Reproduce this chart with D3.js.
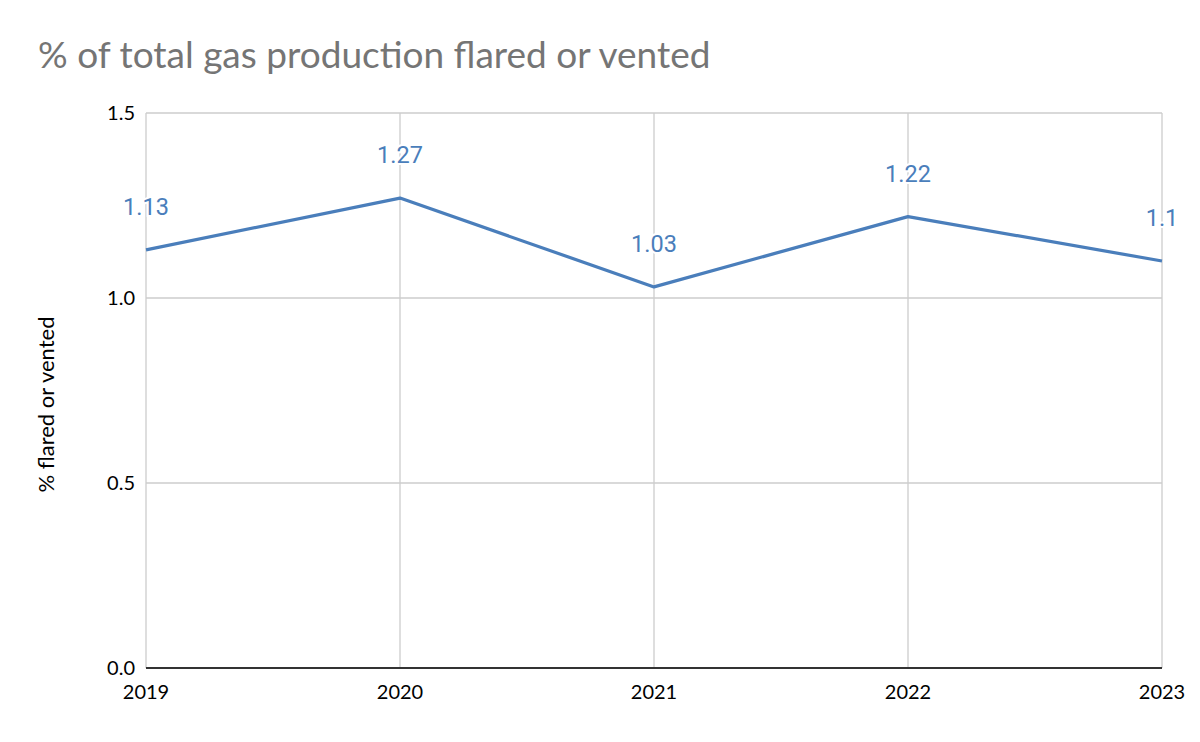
<!DOCTYPE html>
<html><head><meta charset="utf-8">
<script src="https://cdn.jsdelivr.net/npm/d3@7"></script>
<style>body{margin:0;background:#fff}</style>
</head><body>
<script>
const years = ["2019","2020","2021","2022","2023"];
const values = [1.13, 1.27, 1.03, 1.22, 1.1];
const yTicks = [0, 0.5, 1.0, 1.5];
const title = "% of total gas production flared or vented";
const yTitle = "% flared or vented";

const W = 1200, H = 742;
const m = {l:146, r:38, t:113, b:74};
const svg = d3.select("body").append("svg").attr("width", W).attr("height", H);
svg.append("rect").attr("width", W).attr("height", H).attr("fill", "#fff");

const x = d3.scalePoint().domain(years).range([m.l, W - m.r]);
const y = d3.scaleLinear().domain([0, 1.5]).range([H - m.b, m.t]);

svg.append("text").attr("x", 38).attr("y", 68).attr("font-family", "Lato").attr("font-size", 37)
  .attr("fill", "#757575").text(title);

// grid
const g = svg.append("g");
g.selectAll(".hg").data(yTicks).join("line")
  .attr("x1", m.l).attr("x2", W - m.r).attr("y1", d => y(d)).attr("y2", d => y(d))
  .attr("stroke", "#cccccc").attr("stroke-width", 1.3);
g.selectAll(".vg").data(years).join("line")
  .attr("x1", d => x(d)).attr("x2", d => x(d)).attr("y1", m.t).attr("y2", H - m.b)
  .attr("stroke", "#cccccc").attr("stroke-width", 1.3);

// baseline
svg.append("line").attr("x1", m.l).attr("x2", W - m.r).attr("y1", y(0)).attr("y2", y(0))
  .attr("stroke", "#333").attr("stroke-width", 2);

// y tick labels
svg.selectAll(".yl").data(yTicks).join("text")
  .attr("x", m.l - 11).attr("y", d => y(d) + 7).attr("text-anchor", "end")
  .attr("font-family", "Lato").attr("font-size", 20).attr("fill", "#000")
  .text(d => d3.format(".1f")(d));

// x tick labels
svg.selectAll(".xl").data(years).join("text")
  .attr("x", d => x(d)).attr("y", y(0) + 31).attr("text-anchor", "middle")
  .attr("font-family", "Lato").attr("font-size", 20).attr("fill", "#000")
  .text(d => d);

// y title
svg.append("text").attr("transform", `translate(54,${(m.t + H - m.b) / 2 + 14}) rotate(-90)`)
  .attr("text-anchor", "middle").attr("font-family", "Lato").attr("font-size", 22).attr("fill", "#000")
  .text(yTitle);

// line
const line = d3.line().x((d, i) => x(years[i])).y(d => y(d));
svg.append("path").datum(values).attr("d", line).attr("fill", "none")
  .attr("stroke", "#4a7ebb").attr("stroke-width", 3.2).attr("stroke-linejoin", "round");

// data labels
svg.selectAll(".dl").data(values).join("text")
  .attr("x", (d, i) => x(years[i])).attr("y", d => y(d) - 35).attr("text-anchor", "middle")
  .attr("font-family", "Roboto").attr("font-size", 23.5).attr("fill", "#4a7ebb")
  .attr("stroke", "#fff").attr("stroke-width", 4).attr("paint-order", "stroke")
  .text(d => String(d));
</script>
</body></html>
